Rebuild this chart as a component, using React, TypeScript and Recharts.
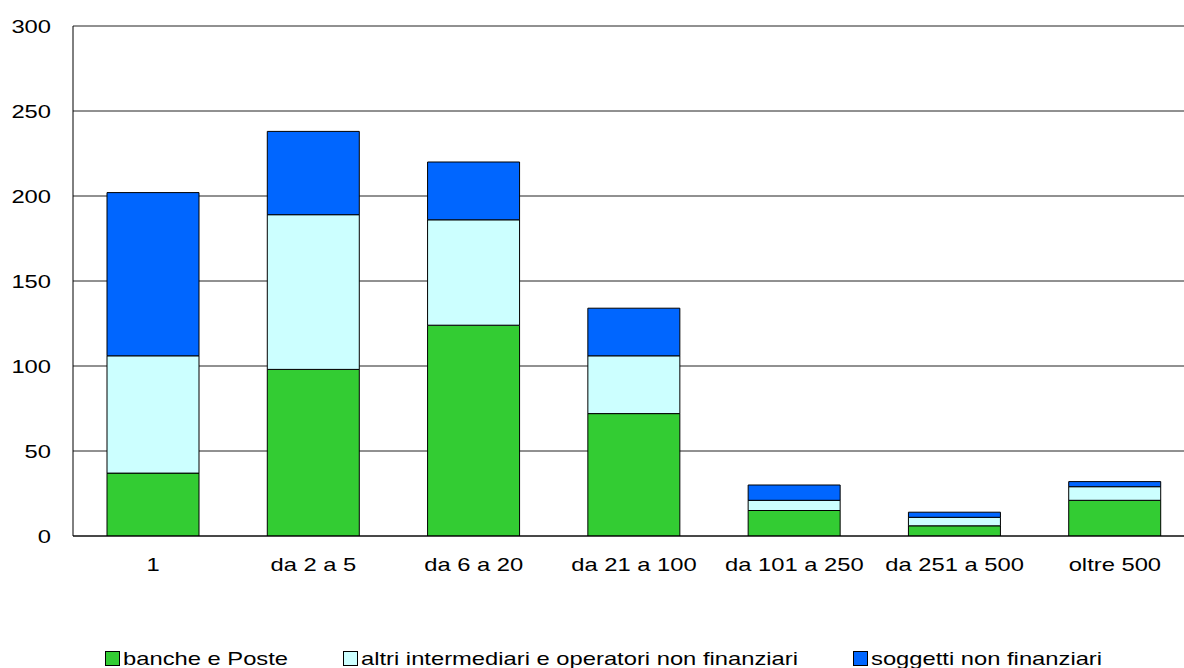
import { BarChart, Bar, XAxis, YAxis, CartesianGrid, Legend } from 'recharts';

const categories = ['1', 'da 2 a 5', 'da 6 a 20', 'da 21 a 100', 'da 101 a 250', 'da 251 a 500', 'oltre 500'];
const banche = [37, 98, 124, 72, 15, 6, 21];
const altri = [69, 91, 62, 34, 6, 5, 8];
const soggetti = [96, 49, 34, 28, 9, 3, 3];
const yTicks = [0, 50, 100, 150, 200, 250, 300];

const series = [
  { key: 'banche', name: 'banche e Poste', color: '#33CC33' },
  { key: 'altri', name: 'altri intermediari e operatori non finanziari', color: '#CCFFFF' },
  { key: 'soggetti', name: 'soggetti non finanziari', color: '#0066FF' },
];

const data = categories.map((c, i) => ({
  name: c,
  banche: banche[i],
  altri: altri[i],
  soggetti: soggetti[i],
}));

const FONT = 'Arial, "Liberation Sans", sans-serif';
const STRETCH = 1.25;

// the source image is stretched horizontally, so text gets a scaleX
const XTick = ({ x, y, payload }: any) => (
  <text
    transform={`translate(${x},${y + 27}) scale(${STRETCH},1)`}
    textAnchor="middle"
    fontSize={19}
    fontFamily={FONT}
    fill="#000"
  >
    {payload.value}
  </text>
);

const YTick = ({ x, y, payload }: any) => (
  <text
    transform={`translate(${x},${y + 7}) scale(${STRETCH},1)`}
    textAnchor="end"
    fontSize={19}
    fontFamily={FONT}
    fill="#000"
  >
    {payload.value}
  </text>
);

const legendLeft = [105, 343, 853];
const LEGEND_H = 19;

const LegendContent = () => (
  <div style={{ position: 'relative', width: 1184, height: LEGEND_H }}>
    {series.map((s, i) => (
      <div
        key={s.key}
        style={{ position: 'absolute', left: legendLeft[i], top: 0, height: LEGEND_H, display: 'flex', alignItems: 'center' }}
      >
        <span
          style={{
            width: 13,
            height: 13,
            background: s.color,
            border: '1px solid #000',
            display: 'inline-block',
          }}
        />
        <span
          style={{
            marginLeft: 3,
            fontFamily: FONT,
            fontSize: 19,
            lineHeight: `${LEGEND_H}px`,
            color: '#000',
            whiteSpace: 'nowrap',
            display: 'inline-block',
            transform: `scaleX(${STRETCH})`,
            transformOrigin: 'left center',
          }}
        >
          {s.name}
        </span>
      </div>
    ))}
  </div>
);

export default function App() {
  return (
    <div style={{ position: 'absolute', left: 0, top: 0, width: 1184, height: 668, overflow: 'hidden', background: '#fff' }}>
      <BarChart
        width={1195}
        height={668}
        data={data}
        margin={{ top: 26, right: 0, left: 1, bottom: 132 - 30 - LEGEND_H }}
        barSize={92}
      >
        <CartesianGrid vertical={false} stroke="#222" strokeWidth={1} />
        <XAxis
          dataKey="name"
          tick={<XTick />}
          tickLine={false}
          axisLine={{ stroke: '#000' }}
          interval={0}
          height={30}
        />
        <YAxis
          domain={[0, 300]}
          ticks={yTicks}
          tick={<YTick />}
          tickLine={false}
          tickSize={0}
          tickMargin={22}
          axisLine={{ stroke: '#000' }}
          width={72}
          allowDataOverflow
        />
        <Legend
          content={<LegendContent />}
          height={LEGEND_H}
          wrapperStyle={{ position: 'absolute', left: 0, top: 649, width: 1184, height: LEGEND_H }}
        />
        {series.map((s) => (
          <Bar
            key={s.key}
            dataKey={s.key}
            name={s.name}
            stackId="a"
            fill={s.color}
            stroke="#000"
            strokeWidth={1}
            isAnimationActive={false}
          />
        ))}
      </BarChart>
    </div>
  );
}
